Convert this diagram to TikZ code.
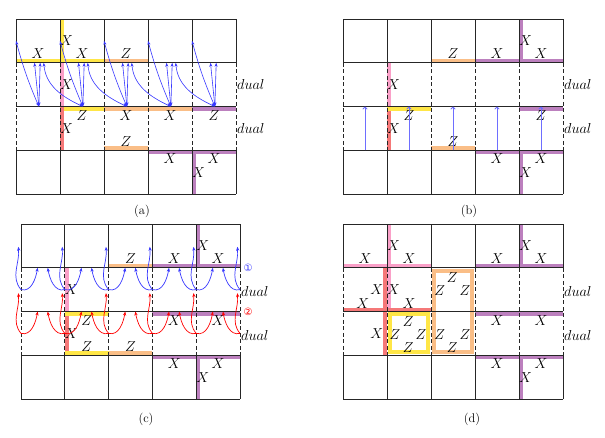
\documentclass[tikz,border=0pt]{standalone}
\usepackage{fontspec}
\newfontfamily\circfont{DejaVu Sans}
\usetikzlibrary{arrows.meta}
\definecolor{ylw}{RGB}{255,230,70}
\definecolor{pnk}{RGB}{250,160,200}
\definecolor{slm}{RGB}{245,120,120}
\definecolor{peach}{RGB}{250,190,135}
\definecolor{vio}{RGB}{188,128,190}
\definecolor{arrblue}{RGB}{55,55,255}
\definecolor{lblue}{RGB}{110,110,255}
\newcommand{\sgrid}{%
  \foreach \r in {0,...,4} \draw[gl] (0,\r) -- (5,\r);
  \foreach \c in {0,...,5} {
    \draw[gl] (\c,0) -- (\c,1);
    \draw[gl] (\c,3) -- (\c,4);
    \draw[dsh] (\c,1) -- (\c,3);
  }%
}
\begin{document}
\begin{tikzpicture}[x=1pt, y=-1pt,
    gl/.style={line width=1pt, black!85},
    dsh/.style={gl, dash pattern=on 4pt off 2.5pt},
    yedge/.style={draw=ylw, line width=4pt},
    pedge/.style={draw=pnk, line width=4pt},
    redge/.style={draw=slm, line width=4pt},
    oedge/.style={draw=peach, line width=4pt},
    vedge/.style={draw=vio, line width=4pt},
    tp/.style={yshift=2pt}, bt/.style={yshift=-2pt}, rt/.style={xshift=2pt}, lf/.style={xshift=-2pt},
    lbl/.style={inner sep=0pt, font=\fontsize{13.5}{15}\selectfont},
    dl/.style={inner sep=0pt, anchor=west, font=\fontsize{15.5}{17}\selectfont},
    subcap/.style={inner sep=0pt, font=\fontsize{12.5}{14}\selectfont},
    barr/.style={{Stealth[length=4pt,width=3pt]}-{Stealth[length=4pt,width=3pt]}, line width=0.6pt, arrblue},
    parr/.style={-{To[length=3pt,width=5pt]}, line width=0.9pt, lblue},
    carr/.style={-{Stealth[length=4pt,width=3.2pt]}, line width=0.7pt}
  ]
\useasboundingbox (0,0) rectangle (605,437);

\begin{scope}[shift={(16,19)}, x=44pt, y=-43.75pt]
  \draw[yedge,tp] (0,1) -- (2,1);
  \draw[yedge,rt] (1,0) -- (1,1);
  \draw[yedge,bt] (1,2) -- (2,2);
  \draw[pedge,rt] (1,1) -- (1,2);
  \draw[redge,rt] (1,2) -- (1,3);
  \draw[oedge,tp] (2,1) -- (3,1);
  \draw[oedge,bt] (2,2) -- (4,2);
  \draw[oedge,tp] (2,3) -- (3,3);
  \draw[vedge,bt] (4,2) -- (5,2);
  \draw[vedge,bt] (3,3) -- (5,3);
  \draw[vedge,rt] (4,3) -- (4,4);
  \sgrid
  \foreach \x/\y/\t [count=\k] in {0.5/0.8/X, 1.15/0.5/X, 1.5/0.8/X, 2.5/0.8/Z, 1.15/1.5/X,
      1.5/2.2/Z, 2.5/2.2/X, 3.5/2.2/X, 4.5/2.2/Z, 1.15/2.5/X, 2.5/2.8/Z,
      3.5/3.2/X, 4.5/3.2/X, 4.15/3.5/X}
    \node[lbl] (aq\k) at (\x,\y) {$\t$};
  \foreach \i in {0,...,4} {
    \coordinate (aB\i) at (\i+0.52,2);
    \coordinate (aT\i) at (\i,0.5);
    \coordinate (aL\i) at (\i+0.42,1);
    \coordinate (aR\i) at (\i+0.55,1);
    \coordinate (aC\i) at (\i+0.63,1);
  }
  \foreach \i in {0,...,4} {
    \draw[barr] (aB\i) to[bend left=4] (aT\i);
    \draw[barr] (aB\i) -- (aL\i);
    \draw[barr] (aB\i) -- (aR\i);
  }
  \foreach \i [count=\j] in {0,...,3}
    \draw[barr] (aB\j) to[out=155,in=-85] (aC\i);
\end{scope}

\begin{scope}[shift={(343,19)}, x=44pt, y=-43.75pt]
  \draw[oedge,tp] (2,1) -- (3,1);
  \draw[vedge,tp] (3,1) -- (5,1);
  \draw[vedge,rt] (4,0) -- (4,1);
  \draw[pedge,rt] (1,1) -- (1,2);
  \draw[redge,rt] (1,2) -- (1,3);
  \draw[yedge,bt] (1,2) -- (2,2);
  \draw[vedge,bt] (4,2) -- (5,2);
  \draw[oedge,tp] (2,3) -- (3,3);
  \draw[vedge,bt] (3,3) -- (5,3);
  \draw[vedge,rt] (4,3) -- (4,4);
  \sgrid
  \foreach \x/\y/\t [count=\k] in {2.5/0.8/Z, 3.5/0.8/X, 4.15/0.5/X, 4.5/0.8/X, 1.15/1.5/X,
      1.5/2.2/Z, 1.15/2.5/X, 4.5/2.2/Z, 2.5/2.8/Z,
      3.5/3.2/X, 4.5/3.2/X, 4.15/3.5/X}
    \node[lbl] (bq\k) at (\x,\y) {$\t$};
  \foreach \i in {0,...,4} {
    \coordinate (bS\i) at (\i+0.5,3);
    \coordinate (bE\i) at (\i+0.5,2);
    \draw[parr] (bS\i) -- (bE\i);
  }
\end{scope}

\begin{scope}[shift={(21,224)}, x=43.8pt, y=-43.75pt]
  \draw[oedge,tp] (2,1) -- (3,1);
  \draw[vedge,tp] (3,1) -- (5,1);
  \draw[vedge,rt] (4,0) -- (4,1);
  \draw[pedge,rt] (1,1) -- (1,2);
  \draw[redge,rt] (1,2) -- (1,3);
  \draw[yedge,bt] (1,2) -- (2,2);
  \draw[vedge,bt] (3,2) -- (5,2);
  \draw[yedge,tp] (1,3) -- (2,3);
  \draw[oedge,tp] (2,3) -- (3,3);
  \draw[vedge,bt] (3,3) -- (5,3);
  \draw[vedge,rt] (4,3) -- (4,4);
  \sgrid
  \foreach \x/\y/\t [count=\k] in {2.5/0.8/Z, 3.5/0.8/X, 4.15/0.5/X, 4.5/0.8/X, 1.15/1.5/X,
      1.5/2.2/Z, 3.5/2.2/X, 4.5/2.2/X, 1.15/2.5/X, 1.5/2.8/Z, 2.5/2.8/Z,
      3.5/3.2/X, 4.5/3.2/X, 4.15/3.5/X}
    \node[lbl] (cq\k) at (\x,\y) {$\t$};
  \foreach \j in {0,...,5} {
    \coordinate (cP\j) at (\j,1.5);
    \coordinate (cU\j) at (\j-0.06,0.52);
    \coordinate (cQ\j) at (\j,2.5);
    \coordinate (cV\j) at (\j-0.06,1.58);
  }
  \foreach \i in {0,...,4} {
    \coordinate (cA\i) at (\i+0.38,1);
    \coordinate (cB\i) at (\i+0.61,1);
    \coordinate (cD\i) at (\i+0.38,2);
    \coordinate (cE\i) at (\i+0.61,2);
  }
  \foreach \j in {0,...,5} {
    \draw[carr,arrblue] (cP\j) to[out=130,in=-85] (cU\j);
    \draw[carr,red] (cQ\j) to[out=130,in=-85] (cV\j);
  }
  \foreach \i [count=\j] in {0,...,4} {
    \draw[carr,arrblue] (cP\i) to[out=-15,in=-100] (cA\i);
    \draw[carr,arrblue] (cP\j) to[out=195,in=-80] (cB\i);
    \draw[carr,red] (cQ\i) to[out=-15,in=-100] (cD\i);
    \draw[carr,red] (cQ\j) to[out=195,in=-80] (cE\i);
  }
\end{scope}

\begin{scope}[shift={(343,224)}, x=44pt, y=-43.75pt]
  \draw[pedge,tp] (0,1) -- (2,1);
  \draw[pedge,rt] (1,0) -- (1,2);
  \draw[redge,lf] (1,1) -- (1,3);
  \draw[redge,tp] (0,2) -- (2,2);
  \draw[yedge] (1.065,2.065) rectangle (1.935,2.935);
  \draw[oedge] (2.065,1.065) rectangle (2.935,2.935);
  \draw[vedge,tp] (3,1) -- (5,1);
  \draw[vedge,rt] (4,0) -- (4,1);
  \draw[vedge,bt] (3,2) -- (5,2);
  \draw[vedge,bt] (3,3) -- (5,3);
  \draw[vedge,rt] (4,3) -- (4,4);
  \sgrid
  \foreach \x/\y/\t [count=\k] in {0.5/0.8/X, 1.15/0.5/X, 1.5/0.8/X, 3.5/0.8/X, 4.15/0.5/X, 4.5/0.8/X,
      0.77/1.5/X, 0.45/1.82/X, 1.15/1.5/X, 1.5/1.82/X,
      2.48/1.22/Z, 2.2/1.52/Z, 2.77/1.52/Z,
      3.5/2.2/X, 4.5/2.2/X, 0.77/2.5/X,
      1.48/2.22/Z, 1.18/2.52/Z, 1.77/2.52/Z, 1.48/2.82/Z,
      2.2/2.52/Z, 2.77/2.52/Z, 2.48/2.82/Z,
      3.5/3.2/X, 4.5/3.2/X, 4.15/3.5/X}
    \node[lbl] (dq\k) at (\x,\y) {$\t$};
\end{scope}

\node[dl] (adual1) at (237,84) {$dual$};
\node[dl] (adual2) at (237,128) {$dual$};
\node[dl] (bdual1) at (564,84) {$dual$};
\node[dl] (bdual2) at (564,128) {$dual$};
\node[dl] (cdual1) at (241,291) {$dual$};
\node[dl] (cdual2) at (241,335) {$dual$};
\node[dl] (ddual1) at (564,291) {$dual$};
\node[dl] (ddual2) at (564,335) {$dual$};
\node[inner sep=0pt, text=arrblue, font=\circfont\fontsize{10}{12}\selectfont] (cone) at (248,268) {①};
\node[inner sep=0pt, text=red, font=\circfont\fontsize{10}{12}\selectfont] (ctwo) at (248,312) {②};

\node[subcap] (capa) at (142,211) {(a)};
\node[subcap] (capb) at (469,211) {(b)};
\node[subcap] (capc) at (146,419) {(c)};
\node[subcap] (capd) at (472,419) {(d)};
\end{tikzpicture}
\end{document}
